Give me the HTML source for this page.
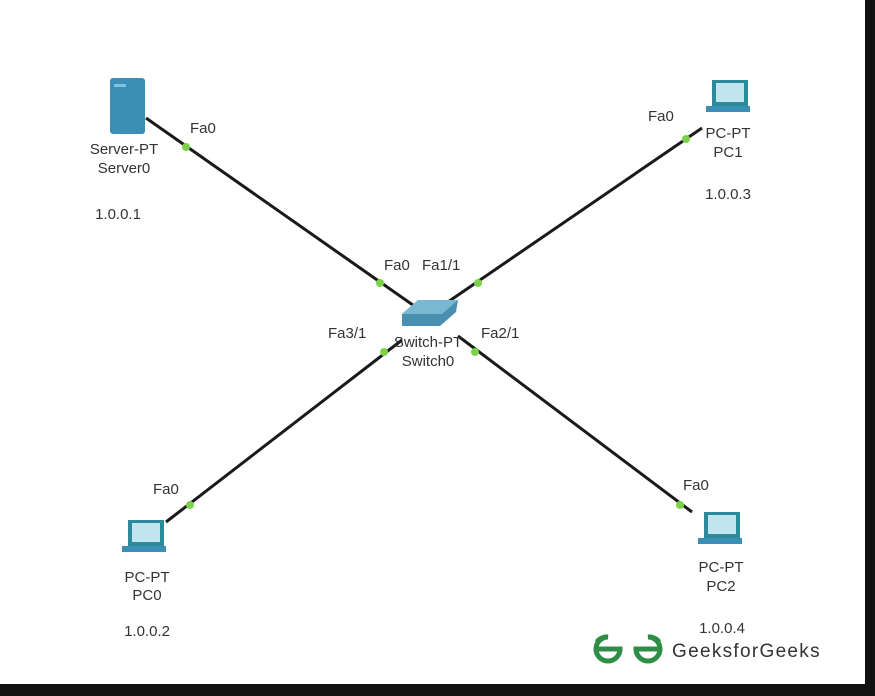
<!DOCTYPE html>
<html><head><style>
body{margin:0;width:875px;height:696px;background:#111;overflow:hidden}
#c{position:absolute;left:0;top:0;width:865px;height:684px;background:#fff}
svg text{font-family:"Liberation Sans",Arial,sans-serif;font-size:15px;fill:#333}
</style></head><body>
<div id="c">
<svg width="865" height="684" style="position:absolute;left:0;top:0">
<g stroke="#1a1a1a" stroke-width="3">
<line x1="146" y1="118" x2="420" y2="310"/>
<line x1="702" y1="128" x2="442" y2="306"/>
<line x1="166" y1="522" x2="402" y2="340"/>
<line x1="692" y1="512" x2="458" y2="336"/>
</g>
<g fill="#7bd24a">
<circle cx="186" cy="147" r="4"/><circle cx="380" cy="283" r="4"/>
<circle cx="478" cy="283" r="4"/><circle cx="686" cy="139" r="4"/>
<circle cx="384" cy="352" r="4"/><circle cx="475" cy="352" r="4"/>
<circle cx="190" cy="505" r="4"/><circle cx="680" cy="505" r="4"/>
</g>
<rect x="110" y="78" width="35" height="56" rx="3" fill="#3b8fb5"/>
<rect x="114" y="84" width="12" height="3" fill="#7fc0dc"/>
<path d="M402 314 L418 300 L458 300 L456 312 L440 326 L402 326 Z" fill="#4a8fb0"/>
<path d="M402 314 L418 300 L458 300 L442 314 Z" fill="#7ab8d2"/>
<g><rect x="712" y="80" width="36" height="26" fill="#2d8a9a"/><rect x="716" y="83" width="28" height="19" fill="#bfe6ee"/><rect x="706" y="106" width="44" height="6" fill="#3b8fb5"/></g>
<g><rect x="128" y="520" width="36" height="26" fill="#2d8a9a"/><rect x="132" y="523" width="28" height="19" fill="#bfe6ee"/><rect x="122" y="546" width="44" height="6" fill="#3b8fb5"/></g>
<g><rect x="704" y="512" width="36" height="26" fill="#2d8a9a"/><rect x="708" y="515" width="28" height="19" fill="#bfe6ee"/><rect x="698" y="538" width="44" height="6" fill="#3b8fb5"/></g>
<g text-anchor="middle">
<text x="124" y="154">Server-PT</text><text x="124" y="173">Server0</text>
<text x="118" y="219">1.0.0.1</text>
<text x="728" y="138">PC-PT</text><text x="728" y="157">PC1</text>
<text x="728" y="199">1.0.0.3</text>
<text x="428" y="347">Switch-PT</text><text x="428" y="366">Switch0</text>
<text x="147" y="582">PC-PT</text><text x="147" y="600">PC0</text>
<text x="147" y="636">1.0.0.2</text>
<text x="721" y="572">PC-PT</text><text x="721" y="591">PC2</text>
<text x="722" y="633">1.0.0.4</text>
</g>
<text x="190" y="133">Fa0</text><text x="648" y="121">Fa0</text>
<text x="384" y="270">Fa0</text><text x="422" y="270">Fa1/1</text>
<text x="328" y="338">Fa3/1</text><text x="481" y="338">Fa2/1</text>
<text x="153" y="494">Fa0</text><text x="683" y="490">Fa0</text>
<text x="672" y="657" style="font-size:19px;fill:#333;letter-spacing:1.3px">GeeksforGeeks</text>
<g fill="none" stroke="#2f8d46" stroke-width="5">
<path d="M594 649 H620 A12 12 0 1 1 608 637 A12 12 0 0 0 597 642"/>
<path d="M662 649 H636 A12 12 0 1 0 648 637 A12 12 0 0 1 659 642"/>
</g>
</svg>
</div>
</body></html>
